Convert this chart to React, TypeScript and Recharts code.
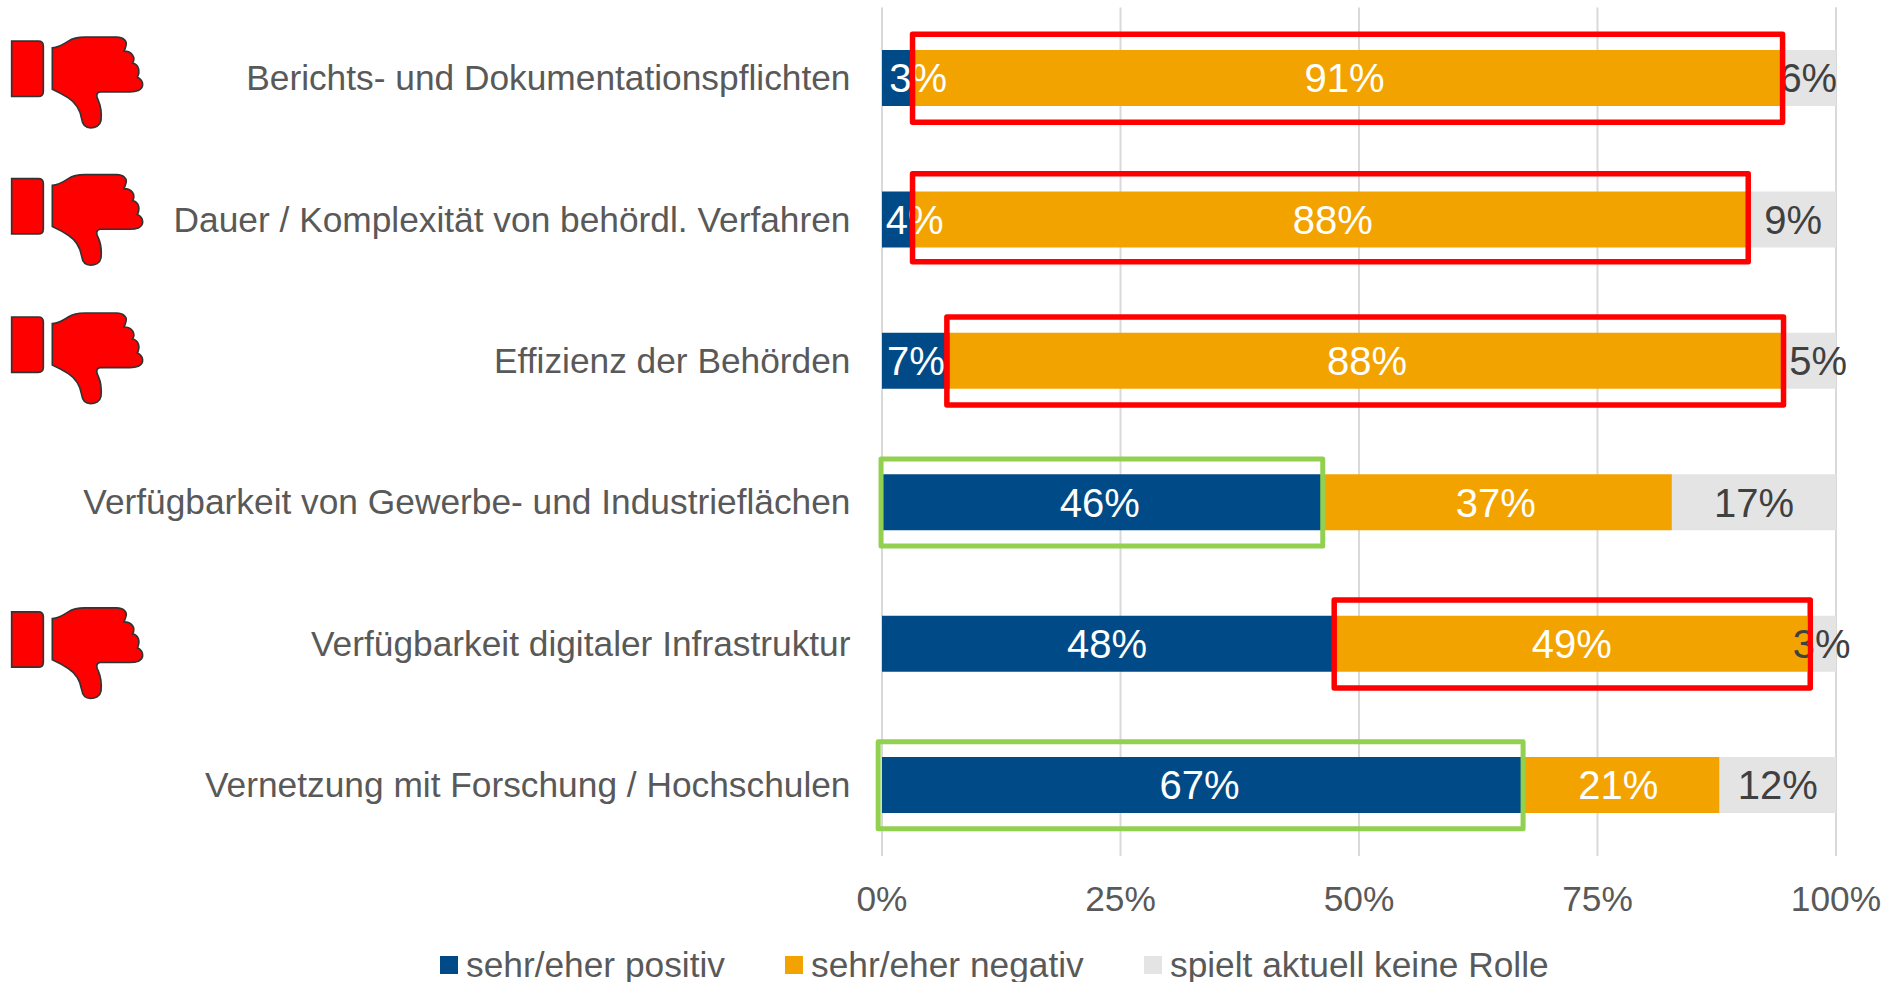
import React from "react";
import { BarChart, Bar, XAxis, YAxis, CartesianGrid, Legend, LabelList, ReferenceArea } from "recharts";

const categories = [
  "Berichts- und Dokumentationspflichten",
  "Dauer / Komplexität von behördl. Verfahren",
  "Effizienz der Behörden",
  "Verfügbarkeit von Gewerbe- und Industrieflächen",
  "Verfügbarkeit digitaler Infrastruktur",
  "Vernetzung mit Forschung / Hochschulen",
];
const positive = [3.2, 3.5, 7.1, 46.3, 47.6, 67.2];
const negative = [91.2, 87.5, 87.5, 36.5, 49.4, 20.6];
const noRole = [5.6, 9.0, 5.4, 17.2, 3.0, 12.2];
const xTicks = [0, 25, 50, 75, 100];

// highlight frames in axis percent: [row, from, to]
const redBoxes = [
  [0, 3.2, 94.4],
  [1, 3.2, 90.8],
  [2, 6.8, 94.5],
  [4, 47.4, 97.3],
];
const greenBoxes = [
  [3, -0.1, 46.2],
  [5, -0.4, 67.2],
];

const NAVY = "#004b87";
const ORANGE = "#f3a300";
const GREY = "#e4e4e4";
const TEXT = "#595959";
const FONT = "'Liberation Sans', Arial, sans-serif";

const rows = categories.map((name, i) => ({ name, positive: positive[i], negative: negative[i], noRole: noRole[i] }));

const thumbShift: Record<number, number> = { 0: -41, 1: -45, 2: -48, 4: -36 };
const labelShift: Record<string, Record<number, number>> = {
  positive: { 0: 21, 1: 16, 3: -3, 4: -2, 5: -3 },
  negative: { 0: -3, 3: -2, 5: -3 },
  noRole: { 0: -1, 2: 8 },
};
const boxShift: Record<number, number> = { 1: -2 };

function Thumb({ y }: { y: number }) {
  return (
    <g transform={`translate(0 ${y - 16.7}) scale(0.3333)`} fill="#ff0000" stroke="#333" strokeWidth={5}>
      <path d="M35,62 L115,62 Q130,62 130,77 L130,213 Q130,228 115,228 L35,228 Z" />
      <path d="M157,82 C175,82 190,72 205,62 C220,52 235,50 255,50 L350,50 C370,50 382,62 378,75 C376,84 374,88 372,92 C395,92 408,110 398,128 C415,132 422,150 412,170 C430,178 435,200 415,210 C405,214 400,214 390,214 L300,214 C288,216 288,228 295,240 C303,258 305,280 303,300 C300,316 285,322 272,322 C255,322 247,310 245,295 C240,265 225,245 205,232 C190,222 170,212 157,206 Z" />
    </g>
  );
}

function CategoryTick(props: any) {
  const { x, y, payload, index } = props;
  const shift = thumbShift[index];
  return (
    <g>
      {shift !== undefined && <Thumb y={y + shift} />}
      <text x={x - 23.5} y={y} dy="0.34em" textAnchor="end" fontSize={35.3} fill={TEXT} fontFamily={FONT}>
        {payload.value}
      </text>
    </g>
  );
}

const makeLabel = (key: string, color: string) => (props: any) => {
  const { x, y, width, height, value, index } = props;
  const dx = labelShift[key]?.[index] ?? 0;
  return (
    <text x={x + width / 2 + dx} y={y + height / 2} dy="0.36em" textAnchor="middle" fontSize={40} fill={color} fontFamily={FONT}>
      {`${Math.round(value)}%`}
    </text>
  );
};

const boxShape = (color: string, half: number, strokeWidth: number, dy: number) => (props: any) => {
  const { x, y, width, height } = props;
  const cy = y + height / 2 + dy;
  return <rect x={x} y={cy - half} width={width} height={half * 2} fill="none" stroke={color} strokeWidth={strokeWidth} strokeLinejoin="round" />;
};

const legendX = [440, 785, 1144];
function LegendContent({ payload }: any) {
  return (
    <div style={{ position: "relative", width: 1899, height: 50 }}>
      {(payload || []).map((p: any, i: number) => (
        <div key={p.value} style={{ position: "absolute", left: legendX[i], top: 0, display: "flex", alignItems: "center", height: 50, whiteSpace: "nowrap" }}>
          <span style={{ width: 18, height: 18, background: p.color, display: "inline-block", marginRight: 8 }} />
          <span style={{ fontSize: 35.3, color: TEXT, fontFamily: FONT }}>{p.value}</span>
        </div>
      ))}
    </div>
  );
}

export default function App() {
  return (
    <div style={{ position: "absolute", left: 0, top: 0, width: 1899, height: 982 }}>
      <BarChart
        width={1899}
        height={982}
        data={rows}
        layout="vertical"
        barCategoryGap={42.5}
        margin={{ top: 7.5, right: 63, bottom: 6, left: 0 }}
      >
        <CartesianGrid horizontal={false} stroke="#d9d9d9" strokeWidth={2} />
        <XAxis
          type="number"
          domain={[0, 100]}
          ticks={xTicks}
          tickFormatter={(v: number) => `${v}%`}
          tick={{ fontSize: 35.3, fill: TEXT, fontFamily: FONT }}
          axisLine={false}
          tickLine={false}
          tickMargin={24}
          height={70}
          interval={0}
        />
        <YAxis type="category" dataKey="name" width={882} axisLine={false} tickLine={false} tick={CategoryTick} interval={0} />
        <Legend verticalAlign="bottom" content={LegendContent} itemSorter={null} wrapperStyle={{ left: 0, bottom: -8, width: 1899 }} />
        <Bar dataKey="positive" name="sehr/eher positiv" stackId="a" fill={NAVY} isAnimationActive={false}>
          <LabelList dataKey="positive" content={makeLabel("positive", "#ffffff")} />
        </Bar>
        <Bar dataKey="negative" name="sehr/eher negativ" stackId="a" fill={ORANGE} isAnimationActive={false}>
          <LabelList dataKey="negative" content={makeLabel("negative", "#ffffff")} />
        </Bar>
        <Bar dataKey="noRole" name="spielt aktuell keine Rolle" stackId="a" fill={GREY} isAnimationActive={false}>
          <LabelList dataKey="noRole" content={makeLabel("noRole", "#404040")} />
        </Bar>
        {redBoxes.map(([row, from, to]) => (
          <ReferenceArea
            key={`r${row}`}
            y1={categories[row]}
            y2={categories[row]}
            x1={from}
            x2={to}
            shape={boxShape("#ff0000", 44, 5.5, boxShift[row] ?? 0)}
            ifOverflow="visible"
            zIndex={3000}
          />
        ))}
        {greenBoxes.map(([row, from, to]) => (
          <ReferenceArea
            key={`g${row}`}
            y1={categories[row]}
            y2={categories[row]}
            x1={from}
            x2={to}
            shape={boxShape("#92d050", 43.5, 5, 0)}
            ifOverflow="visible"
            zIndex={3000}
          />
        ))}
      </BarChart>
    </div>
  );
}
